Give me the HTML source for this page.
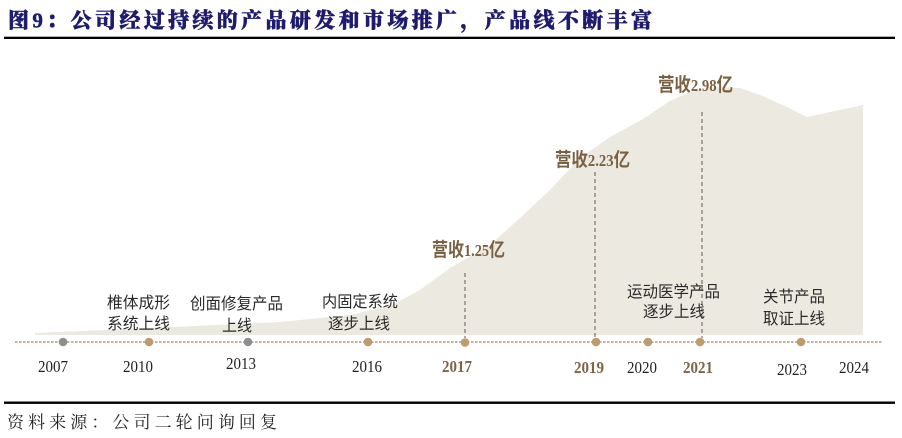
<!DOCTYPE html>
<html>
<head>
<meta charset="utf-8">
<style>
  html,body{margin:0;padding:0;background:#fff;}
  svg{display:block;}
</style>
</head>
<body>
<svg width="902" height="438" viewBox="0 0 902 438" xmlns="http://www.w3.org/2000/svg">
  <rect width="902" height="438" fill="#ffffff"/>
  <!-- title -->
  <text x="8" y="27.5" font-family="'Liberation Serif','Noto Serif CJK SC',serif" font-weight="900" font-size="21" fill="#1e1b6e" stroke="#1e1b6e" stroke-width="0.5" textLength="644" lengthAdjust="spacing">图9：公司经过持续的产品研发和市场推广，产品线不断丰富</text>
  <rect x="4" y="36.7" width="891" height="2.3" fill="#000"/>

  <!-- area -->
  <path d="M35,335 L35,333 L150,328 L280,322 L350,315 L390,306 L420,290 L450,268 L490,245 L520,218 L550,190 L580,158 L610,137 L643,119 L670,101 L690,92 L720,87 L740,88 L760,95 L785,106 L807,117 L835,111 L863,105 L863,335 Z" fill="#ebe9e0"/>

  <!-- dashed vertical lines -->
  <g stroke="#8a7c6c" stroke-width="1.3" stroke-dasharray="4 3" fill="none">
    <line x1="465" y1="273" x2="465" y2="338"/>
    <line x1="595" y1="172" x2="595" y2="338"/>
    <line x1="702" y1="112" x2="702" y2="338"/>
  </g>

  <!-- revenue labels -->
  <g font-weight="bold" fill="#7a6142">
    <text x="432" y="256" font-size="19" textLength="73" lengthAdjust="spacingAndGlyphs"><tspan font-family="'Noto Sans CJK SC',sans-serif">营收</tspan><tspan font-family="'Liberation Serif',serif" font-size="17">1.25</tspan><tspan font-family="'Noto Sans CJK SC',sans-serif">亿</tspan></text>
    <text x="555" y="166" font-size="19" textLength="75" lengthAdjust="spacingAndGlyphs"><tspan font-family="'Noto Sans CJK SC',sans-serif">营收</tspan><tspan font-family="'Liberation Serif',serif" font-size="17">2.23</tspan><tspan font-family="'Noto Sans CJK SC',sans-serif">亿</tspan></text>
    <text x="658" y="91" font-size="19" textLength="75" lengthAdjust="spacingAndGlyphs"><tspan font-family="'Noto Sans CJK SC',sans-serif">营收</tspan><tspan font-family="'Liberation Serif',serif" font-size="17">2.98</tspan><tspan font-family="'Noto Sans CJK SC',sans-serif">亿</tspan></text>
  </g>

  <!-- annotations -->
  <g font-family="'Liberation Sans','Noto Sans CJK SC',sans-serif" font-size="16" fill="#2a2a2a">
    <text x="107" y="308" textLength="63" lengthAdjust="spacingAndGlyphs">椎体成形</text>
    <text x="107" y="329" textLength="63" lengthAdjust="spacingAndGlyphs">系统上线</text>
    <text x="190" y="309" textLength="93" lengthAdjust="spacingAndGlyphs">创面修复产品</text>
    <text x="222" y="331" textLength="30" lengthAdjust="spacingAndGlyphs">上线</text>
    <text x="322" y="307" textLength="76" lengthAdjust="spacingAndGlyphs">内固定系统</text>
    <text x="328" y="329" textLength="62" lengthAdjust="spacingAndGlyphs">逐步上线</text>
    <text x="627" y="297" textLength="93" lengthAdjust="spacingAndGlyphs">运动医学产品</text>
    <text x="643" y="317" textLength="62" lengthAdjust="spacingAndGlyphs">逐步上线</text>
    <text x="763" y="302" textLength="62" lengthAdjust="spacingAndGlyphs">关节产品</text>
    <text x="763" y="324" textLength="62" lengthAdjust="spacingAndGlyphs">取证上线</text>
  </g>

  <!-- timeline -->
  <line x1="15" y1="342" x2="883" y2="342" stroke="#b9a892" stroke-width="1.7" stroke-dasharray="2.5 1.5"/>
  <g>
    <circle cx="63" cy="342" r="4.3" fill="#8e8e8e"/>
    <circle cx="149" cy="342" r="4.3" fill="#be9a6d"/>
    <circle cx="248" cy="342" r="4.3" fill="#8e8e8e"/>
    <circle cx="368" cy="342" r="4.3" fill="#be9a6d"/>
    <circle cx="465" cy="342.5" r="4.3" fill="#be9a6d"/>
    <circle cx="596" cy="342" r="4.3" fill="#be9a6d"/>
    <circle cx="648" cy="342" r="4.3" fill="#be9a6d"/>
    <circle cx="700" cy="342" r="4.3" fill="#be9a6d"/>
    <circle cx="801" cy="342" r="4.3" fill="#be9a6d"/>
  </g>

  <!-- years -->
  <g font-family="'Liberation Serif',serif" font-size="17" text-anchor="middle" fill="#222">
    <text x="53" y="372" textLength="30" lengthAdjust="spacingAndGlyphs">2007</text>
    <text x="138" y="372" textLength="30" lengthAdjust="spacingAndGlyphs">2010</text>
    <text x="241" y="369" textLength="30" lengthAdjust="spacingAndGlyphs">2013</text>
    <text x="367" y="372" textLength="30" lengthAdjust="spacingAndGlyphs">2016</text>
    <text x="642" y="373" textLength="30" lengthAdjust="spacingAndGlyphs">2020</text>
    <text x="792" y="375" textLength="30" lengthAdjust="spacingAndGlyphs">2023</text>
    <text x="854" y="373" textLength="30" lengthAdjust="spacingAndGlyphs">2024</text>
  </g>
  <g font-family="'Liberation Serif',serif" font-size="17" font-weight="bold" text-anchor="middle" fill="#7c6446">
    <text x="457" y="372" textLength="30" lengthAdjust="spacingAndGlyphs">2017</text>
    <text x="589" y="373" textLength="30" lengthAdjust="spacingAndGlyphs">2019</text>
    <text x="698" y="373" textLength="30" lengthAdjust="spacingAndGlyphs">2021</text>
  </g>

  <!-- bottom rule and source -->
  <rect x="4" y="401.5" width="891" height="2.4" fill="#000"/>
  <text x="7" y="428" font-family="'Liberation Serif','Noto Serif CJK SC',serif" font-size="17" fill="#222" textLength="270" lengthAdjust="spacing">资料来源：公司二轮问询回复</text>
</svg>
</body>
</html>
